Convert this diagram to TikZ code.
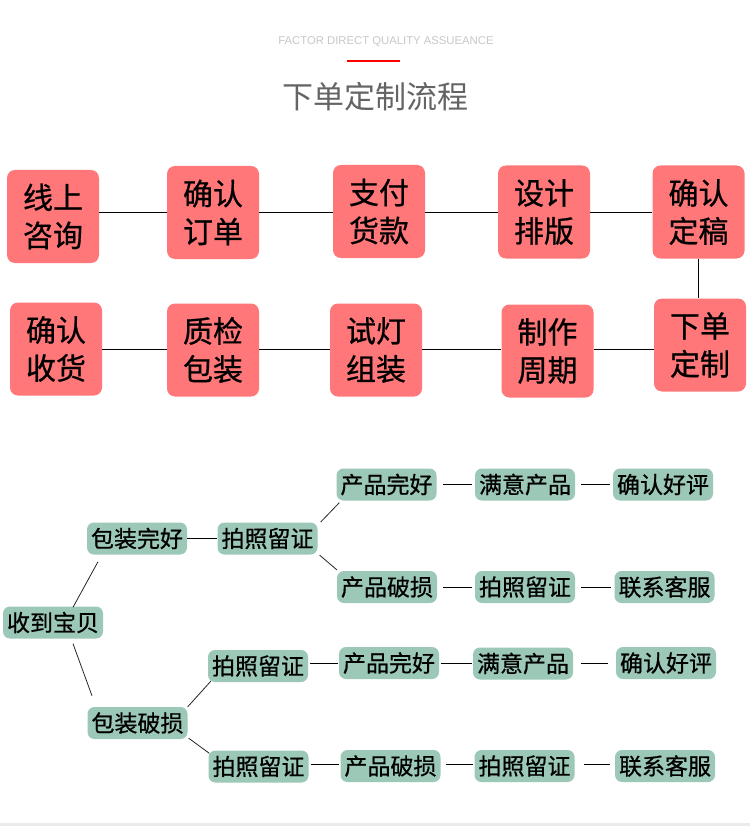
\documentclass[tikz,border=0pt]{standalone}
\usepackage{fontspec}
\setmainfont{Liberation Sans}
\newfontfamily\cjk{Noto Sans CJK SC}
\newfontfamily\cjkb[FakeBold=0.7]{Noto Sans CJK SC}
\usetikzlibrary{calc}
\definecolor{boxred}{RGB}{255,119,120}
\definecolor{boxgreen}{RGB}{156,200,184}
\definecolor{titlegray}{RGB}{100,100,100}
\definecolor{subgray}{RGB}{200,200,200}
\definecolor{stripgray}{RGB}{235,235,235}
\begin{document}
\begin{tikzpicture}[x=1pt,y=-1pt,
  rbox/.style={fill=boxred, rounded corners=8pt, minimum width=92pt, minimum height=93pt,
    inner sep=0pt, align=center, font=\cjkb\fontsize{30}{38}\selectfont},
  gbox/.style={fill=boxgreen, rounded corners=7pt, minimum width=100pt, minimum height=32pt,
    inner sep=0pt, font=\cjkb\fontsize{23}{23}\selectfont},
  link/.style={draw=black, line width=1pt},
  glink/.style={draw=black, line width=1pt},
  dlink/.style={draw=black!85, line width=0.8pt},
  gapr/.style={shorten <=6pt, shorten >=3pt},
  gapl/.style={shorten <=2pt, shorten >=1pt}]

\useasboundingbox (0,0) rectangle (750,826);
\fill[white] (0,0) rectangle (750,826);
\fill[stripgray] (0,823) rectangle (750,826);

% header
\node[text=subgray, font=\fontsize{11.3}{11.3}\selectfont, inner sep=0pt] (sub) at (386,42) {FACTOR DIRECT QUALITY ASSUEANCE};
\fill[red] (347,59.8) rectangle (400,62.2);
\node[text=titlegray, font=\cjk\fontsize{31}{31}\selectfont, inner sep=0pt] (title) at (375,97) {下单定制流程};

% red flow
\node[rbox] (r1) at (53,216.5) {线上\\咨询};
\node[rbox] (r2) at (213,212.5) {确认\\订单};
\node[rbox] (r3) at (379,211.5) {支付\\货款};
\node[rbox] (r4) at (544,212) {设计\\排版};
\node[rbox] (r5) at (698.5,212) {确认\\定稿};
\node[rbox] (r6) at (700,345) {下单\\定制};
\node[rbox] (r7) at (547.5,351) {制作\\周期};
\node[rbox] (r8) at (376,350) {试灯\\组装};
\node[rbox] (r9) at (213,350) {质检\\包装};
\node[rbox] (r10) at (56,349) {确认\\收货};

\coordinate (rowa) at (0,212.5);
\coordinate (rowb) at (0,349);
\draw[link] (r1.east |- rowa) -- (r2.west |- rowa);
\draw[link] (r2.east |- rowa) -- (r3.west |- rowa);
\draw[link] (r3.east |- rowa) -- (r4.west |- rowa);
\draw[link] (r4.east |- rowa) -- (r5.west |- rowa);
\draw[link] (r5.south) -- (r5.south |- r6.north);
\draw[link] (r6.west |- rowb) -- (r7.east |- rowb);
\draw[link] (r7.west |- rowb) -- (r8.east |- rowb);
\draw[link] (r8.west |- rowb) -- (r9.east |- rowb);
\draw[link] (r9.west |- rowb) -- (r10.east |- rowb);

% green tree
\node[gbox] (g0) at (53,622.5) {收到宝贝};
\node[gbox] (g1) at (137,538.5) {包装完好};
\node[gbox] (g2) at (267.5,538.5) {拍照留证};
\node[gbox] (g3) at (386.5,484.5) {产品完好};
\node[gbox] (g4) at (525,484.5) {满意产品};
\node[gbox] (g5) at (663,484.5) {确认好评};
\node[gbox] (g6) at (387,587) {产品破损};
\node[gbox] (g7) at (525,587) {拍照留证};
\node[gbox] (g8) at (664.5,587) {联系客服};
\node[gbox] (g9) at (137.5,723) {包装破损};
\node[gbox] (g10) at (258,666) {拍照留证};
\node[gbox] (g11) at (389,663) {产品完好};
\node[gbox] (g12) at (523,663.5) {满意产品};
\node[gbox] (g13) at (666,663) {确认好评};
\node[gbox] (g14) at (258.5,766.5) {拍照留证};
\node[gbox] (g15) at (390.5,766) {产品破损};
\node[gbox] (g16) at (524.5,766) {拍照留证};
\node[gbox] (g17) at (665,766) {联系客服};

% diagonals
\draw[dlink] ($(g0.north)+(20,1)$) -- ($(g1.south)+(-39,7)$);
\draw[dlink] ($(g0.south)+(20,5)$) -- ($(g9.north)+(-45.5,-11)$);
\draw[dlink] ($(g2.east)+(3,-16.5)$) -- ($(g3.south west)+(3,2)$);
\draw[dlink] ($(g2.south east)+(2,0.5)$) -- ($(g6.north west)+(0,-1)$);
\draw[dlink] ($(g9.north east)+(0,0)$) -- ($(g10.south west)+(3,-1)$);
\draw[dlink] ($(g9.south east)+(1,-1)$) -- ($(g14.north west)+(1,3)$);

% horizontals
\coordinate (rowc) at (0,663);
\coordinate (rowd) at (0,764.5);
\draw[glink] (g1.east) -- (g2.west);
\draw[glink, gapr] (g3.east) -- (g4.west);
\draw[glink, gapr] (g4.east) -- (g5.west);
\draw[glink, gapr] (g6.east) -- (g7.west);
\draw[glink, gapr] (g7.east) -- (g8.west);
\draw[glink, gapl] (g10.east |- rowc) -- (g11.west |- rowc);
\draw[glink, gapl] (g11.east |- rowc) -- (g12.west |- rowc);
\draw[glink, shorten <=8pt, shorten >=8pt] (g12.east |- rowc) -- (g13.west |- rowc);
\draw[glink, gapl] (g14.east |- rowd) -- (g15.west |- rowd);
\draw[glink, shorten <=5pt, shorten >=1pt] (g15.east |- rowd) -- (g16.west |- rowd);
\draw[glink, shorten <=9pt, shorten >=5pt] (g16.east |- rowd) -- (g17.west |- rowd);
\end{tikzpicture}
\end{document}
